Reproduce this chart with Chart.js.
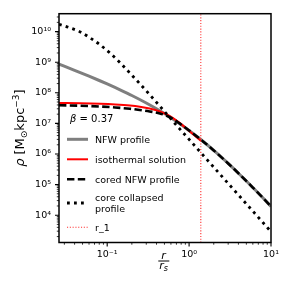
<!DOCTYPE html>
<html>
<head>
<meta charset="utf-8">
<title>density profiles</title>
<script src="https://cdn.jsdelivr.net/npm/chart.js@4.4.0/dist/chart.umd.min.js"></script>
<style>
  body { margin: 0; padding: 0; background: #fff; }
</style>
</head>
<body>
<canvas id="chart" width="287" height="287"></canvas>
<script>
// radius in units of r_s, density in M_sun kpc^-3
const nfwR   = [0.0258, 0.04, 0.06, 0.08, 0.1, 0.15, 0.2, 0.3, 0.4, 0.5, 0.6, 0.8, 1.0, 1.4, 2, 3, 4, 5, 6, 8, 10];
const nfwRho = [8.66e8, 5.43e8, 3.49e8, 2.52e8, 1.94e8, 1.18e8, 8.16e7, 4.64e7, 3.0e7, 2.09e7, 1.53e7, 9.07e6, 5.88e6, 2.91e6, 1.31e6, 4.9e5, 2.35e5, 1.31e5, 8.0e4, 3.63e4, 1.94e4];

const isoR   = [0.0258, 0.047, 0.082, 0.125, 0.19, 0.25, 0.33, 0.44, 0.59, 0.78, 1.03, 1.39];
const isoRho = [4.63e7, 4.56e7, 4.39e7, 4.17e7, 3.84e7, 3.51e7, 3.07e7, 2.45e7, 1.69e7, 1.0e7, 5.3e6, 2.7e6];

const coredR   = [0.0258, 0.047, 0.082, 0.125, 0.19, 0.25, 0.33, 0.44, 0.59, 0.78, 1.0, 1.4, 2, 3, 4, 6, 8, 10];
const coredRho = [3.9e7, 3.78e7, 3.56e7, 3.31e7, 3.0e7, 2.74e7, 2.45e7, 2.11e7, 1.57e7, 9.6e6, 5.88e6, 2.91e6, 1.31e6, 4.9e5, 2.35e5, 8.0e4, 3.63e4, 1.94e4];

const collR   = [0.0258, 0.035, 0.047, 0.062, 0.082, 0.109, 0.144, 0.19, 0.253, 0.334, 0.443, 0.586, 0.777, 1.03, 1.36, 2.39, 4.19, 7.34, 10];
const collRho = [1.74e10, 1.33e10, 9.7e9, 6.2e9, 3.67e9, 1.95e9, 9.57e8, 4.36e8, 1.92e8, 8.42e7, 3.56e7, 1.51e7, 6.38e6, 2.74e6, 1.18e6, 2.16e5, 3.99e4, 7.36e3, 2.89e3];

const r1 = 1.39;
const beta = '0.37';

const xMin = 0.0258, xMax = 10;
const yMin = 1.28e3, yMax = 3.84e10;

const xMajor = [0.1, 1, 10];
const xLabels = ['10\u207B\u00B9', '10\u2070', '10\u00B9'];
const yMajor = [1e4, 1e5, 1e6, 1e7, 1e8, 1e9, 1e10];
const yLabels = ['10\u2074', '10\u2075', '10\u2076', '10\u2077', '10\u2078', '10\u2079', '10\u00B9\u2070'];

function minorTicks(lo, hi) {
  const out = [];
  for (let e = Math.floor(Math.log10(lo)); e <= Math.ceil(Math.log10(hi)); e++) {
    for (let m = 2; m <= 9; m++) {
      const v = m * Math.pow(10, e);
      if (v >= lo && v <= hi) out.push(v);
    }
  }
  return out;
}
const xMinor = minorTicks(xMin, xMax);
const yMinor = minorTicks(yMin, yMax);

const pts = (xs, ys) => xs.map((x, i) => ({x: x, y: ys[i]}));

Chart.defaults.font.family = 'DejaVu Sans';
Chart.defaults.color = '#000';

const FONT = 'DejaVu Sans';

const decor = {
  id: 'decor',
  afterDraw(chart) {
    const ctx = chart.ctx;
    const a = chart.chartArea;
    const xs = chart.scales.x, ys = chart.scales.y;
    ctx.save();

    // frame
    ctx.strokeStyle = '#000';
    ctx.lineWidth = 1.5;
    ctx.setLineDash([]);
    ctx.strokeRect(a.left, a.top, a.right - a.left, a.bottom - a.top);

    // tick marks, outside, left and bottom
    ctx.lineWidth = 1.1;
    ctx.beginPath();
    xMajor.forEach(v => { const p = xs.getPixelForValue(v); ctx.moveTo(p, a.bottom); ctx.lineTo(p, a.bottom + 4); });
    yMajor.forEach(v => { const p = ys.getPixelForValue(v); ctx.moveTo(a.left, p); ctx.lineTo(a.left - 4, p); });
    ctx.stroke();
    ctx.lineWidth = 0.8;
    ctx.beginPath();
    xMinor.forEach(v => { const p = xs.getPixelForValue(v); ctx.moveTo(p, a.bottom); ctx.lineTo(p, a.bottom + 2.2); });
    yMinor.forEach(v => { const p = ys.getPixelForValue(v); ctx.moveTo(a.left, p); ctx.lineTo(a.left - 2.2, p); });
    ctx.stroke();

    ctx.fillStyle = '#000';
    ctx.textBaseline = 'alphabetic';
    ctx.textAlign = 'left';

    // y title: rho [M_sun kpc^-3]
    const pieces = [
      {t: '\u03C1', f: 'italic 13px ' + FONT, dy: 0},
      {t: ' [M', f: '13px ' + FONT, dy: 0},
      {t: '\u2299', f: '9px ' + FONT, dy: 3},
      {t: 'kpc', f: '13px ' + FONT, dy: 0},
      {t: '\u22123', f: '9px ' + FONT, dy: -5.5},
      {t: ']', f: '13px ' + FONT, dy: 0}
    ];
    let total = 0;
    pieces.forEach(p => { ctx.font = p.f; p.w = ctx.measureText(p.t).width; total += p.w; });
    ctx.save();
    ctx.translate(24, (a.top + a.bottom) / 2);
    ctx.rotate(-Math.PI / 2);
    let px = -total / 2;
    pieces.forEach(p => { ctx.font = p.f; ctx.fillText(p.t, px, p.dy); px += p.w; });
    ctx.restore();

    // x title: r / r_s
    const cx = 163.5;
    ctx.font = 'italic 11px ' + FONT;
    ctx.textAlign = 'center';
    ctx.fillText('r', cx, 259.3);
    ctx.lineWidth = 1;
    ctx.beginPath();
    ctx.moveTo(158.3, 261); ctx.lineTo(169.3, 261);
    ctx.stroke();
    ctx.textAlign = 'left';
    const wr = ctx.measureText('r').width;
    ctx.font = 'italic 8px ' + FONT;
    const ws = ctx.measureText('s').width;
    ctx.font = 'italic 11px ' + FONT;
    ctx.fillText('r', cx - (wr + ws) / 2, 268.5);
    ctx.font = 'italic 8px ' + FONT;
    ctx.fillText('s', cx - (wr + ws) / 2 + wr, 271);

    // beta annotation
    ctx.font = 'italic 10px ' + FONT;
    ctx.fillText('\u03B2', 70, 121.5);
    const wb = ctx.measureText('\u03B2').width;
    ctx.font = '10px ' + FONT;
    ctx.fillText(' = ' + beta, 70 + wb, 121.5);

    // legend
    const rows = [139.3, 159.3, 179.3, 203, 227.3];
    ctx.font = '9.5px ' + FONT;
    chart.data.datasets.forEach((ds, i) => {
      const yy = rows[i];
      ctx.strokeStyle = ds.borderColor;
      ctx.lineWidth = ds.borderWidth;
      ctx.setLineDash(ds.borderDash || []);
      ctx.lineDashOffset = 0;
      ctx.beginPath();
      ctx.moveTo(67, yy); ctx.lineTo(88, yy);
      ctx.stroke();
      const lines = ds.label.split('\n');
      lines.forEach((ln, k) => {
        const off = (k - (lines.length - 1) / 2) * 11.4;
        ctx.fillText(ln, 95, yy + off + 3.4);
      });
    });
    ctx.setLineDash([]);
    ctx.restore();
  }
};

const common = {pointRadius: 0, fill: false, cubicInterpolationMode: 'monotone'};

new Chart(document.getElementById('chart'), {
  type: 'line',
  data: {
    datasets: [
      Object.assign({label: 'NFW profile', data: pts(nfwR, nfwRho), borderColor: '#7f7f7f', borderWidth: 3, order: 5}, common),
      Object.assign({label: 'isothermal solution', data: pts(isoR, isoRho), borderColor: '#ff0000', borderWidth: 2, order: 4}, common),
      Object.assign({label: 'cored NFW profile', data: pts(coredR, coredRho), borderColor: '#000000', borderWidth: 2.6, borderDash: [7.4, 3.4], order: 3}, common),
      Object.assign({label: 'core collapsed\nprofile', data: pts(collR, collRho), borderColor: '#000000', borderWidth: 2.8, borderDash: [2.8, 4.2], order: 2}, common),
      Object.assign({label: 'r_1', data: [{x: r1, y: yMin}, {x: r1, y: yMax}], borderColor: '#ff3030', borderWidth: 1.1, borderDash: [1.1, 1.7], order: 1}, common)
    ]
  },
  options: {
    responsive: false,
    animation: false,
    devicePixelRatio: 1,
    layout: {padding: {top: 12, right: 16, left: 0, bottom: 0}},
    plugins: {legend: {display: false}, tooltip: {enabled: false}},
    scales: {
      x: {
        type: 'logarithmic', min: xMin, max: xMax,
        grid: {display: false, drawTicks: false},
        border: {display: false},
        afterBuildTicks: s => { s.ticks = xMajor.map(v => ({value: v})); },
        afterFit: s => { s.height = 44.5; },
        ticks: {autoSkip: false, maxRotation: 0, padding: 6, color: '#000', font: {size: 9.5},
          callback: (v, i) => xLabels[i]}
      },
      y: {
        type: 'logarithmic', min: yMin, max: yMax,
        grid: {display: false, drawTicks: false},
        border: {display: false},
        afterBuildTicks: s => { s.ticks = yMajor.map(v => ({value: v})); },
        afterFit: s => { s.width = 59; },
        ticks: {autoSkip: false, padding: 8, color: '#000', font: {size: 9.5},
          callback: (v, i) => yLabels[i]}
      }
    }
  },
  plugins: [decor]
});
</script>
</body>
</html>
